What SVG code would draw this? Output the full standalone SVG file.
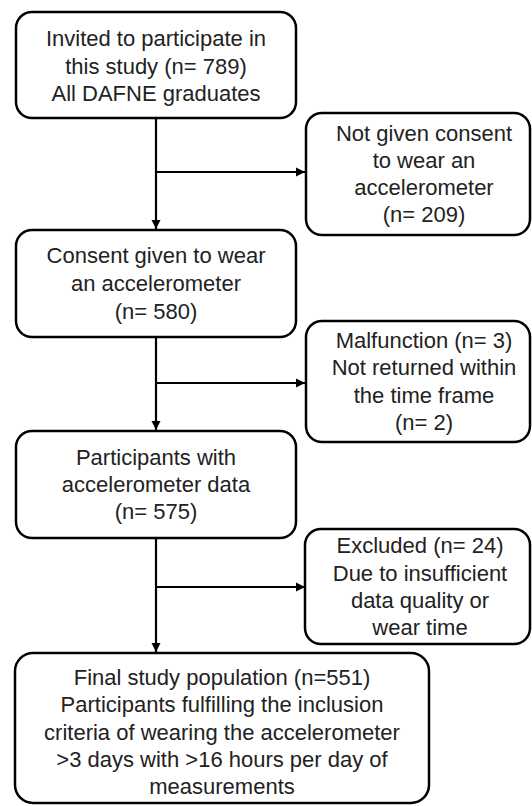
<svg xmlns="http://www.w3.org/2000/svg" width="532" height="806" viewBox="0 0 532 806">
<style>
.box{fill:#fff;stroke:#000;stroke-width:2.5}
.t{font-family:"Liberation Sans",Arial,sans-serif;font-size:22px;fill:#222;text-anchor:middle}
.ln{stroke:#000;stroke-width:2.2;fill:none}
</style>
<defs>
<marker id="ah" markerWidth="10" markerHeight="10" refX="9" refY="5" orient="auto" markerUnits="userSpaceOnUse">
<path d="M0,0.5 L9,5 L0,9.5 Z" fill="#000"/>
</marker>
</defs>
<rect width="532" height="806" fill="#fff"/>
<g id="connectors">
<line class="ln" x1="156" y1="118" x2="156" y2="229" marker-end="url(#ah)"/>
<line class="ln" x1="156" y1="172" x2="305" y2="172" marker-end="url(#ah)"/>
<line class="ln" x1="156" y1="337" x2="156" y2="430" marker-end="url(#ah)"/>
<line class="ln" x1="156" y1="383" x2="305" y2="383" marker-end="url(#ah)"/>
<line class="ln" x1="156" y1="538" x2="156" y2="652" marker-end="url(#ah)"/>
<line class="ln" x1="156" y1="587" x2="305" y2="587" marker-end="url(#ah)"/>
</g>
<g id="invited">
<rect class="box" x="16" y="12" width="280" height="106" rx="16"/>
<text class="t" x="156" y="46">Invited to participate in</text>
<text class="t" x="156" y="74">this study (n= 789)</text>
<text class="t" x="156" y="101">All DAFNE graduates</text>
</g>
<g id="not-consent">
<rect class="box" x="306" y="113" width="224" height="122" rx="16"/>
<text class="t" x="424" y="141">Not given consent</text>
<text class="t" x="424" y="168">to wear an</text>
<text class="t" x="424" y="195">accelerometer</text>
<text class="t" x="424" y="222">(n= 209)</text>
</g>
<g id="consent">
<rect class="box" x="16" y="230" width="280" height="107" rx="16"/>
<text class="t" x="156" y="263">Consent given to wear</text>
<text class="t" x="156" y="291">an accelerometer</text>
<text class="t" x="156" y="319">(n= 580)</text>
</g>
<g id="malfunction">
<rect class="box" x="306" y="321" width="224" height="121" rx="16"/>
<text class="t" x="424" y="348">Malfunction (n= 3)</text>
<text class="t" x="424" y="375">Not returned within</text>
<text class="t" x="424" y="403">the time frame</text>
<text class="t" x="424" y="430">(n= 2)</text>
</g>
<g id="participants">
<rect class="box" x="16" y="431" width="280" height="107" rx="16"/>
<text class="t" x="156" y="465">Participants with</text>
<text class="t" x="156" y="492">accelerometer data</text>
<text class="t" x="156" y="519">(n= 575)</text>
</g>
<g id="excluded">
<rect class="box" x="305" y="529" width="225" height="115" rx="16"/>
<text class="t" x="420" y="553">Excluded (n= 24)</text>
<text class="t" x="420" y="581">Due to insufficient</text>
<text class="t" x="420" y="608">data quality or</text>
<text class="t" x="420" y="635">wear time</text>
</g>
<g id="final">
<rect class="box" x="15" y="653" width="414" height="150" rx="18"/>
<text class="t" x="222" y="685">Final study population (n=551)</text>
<text class="t" x="222" y="712">Participants fulfilling the inclusion</text>
<text class="t" x="222" y="740">criteria of wearing the accelerometer</text>
<text class="t" x="222" y="767">&gt;3 days with &gt;16 hours per day of</text>
<text class="t" x="222" y="794">measurements</text>
</g>
</svg>
